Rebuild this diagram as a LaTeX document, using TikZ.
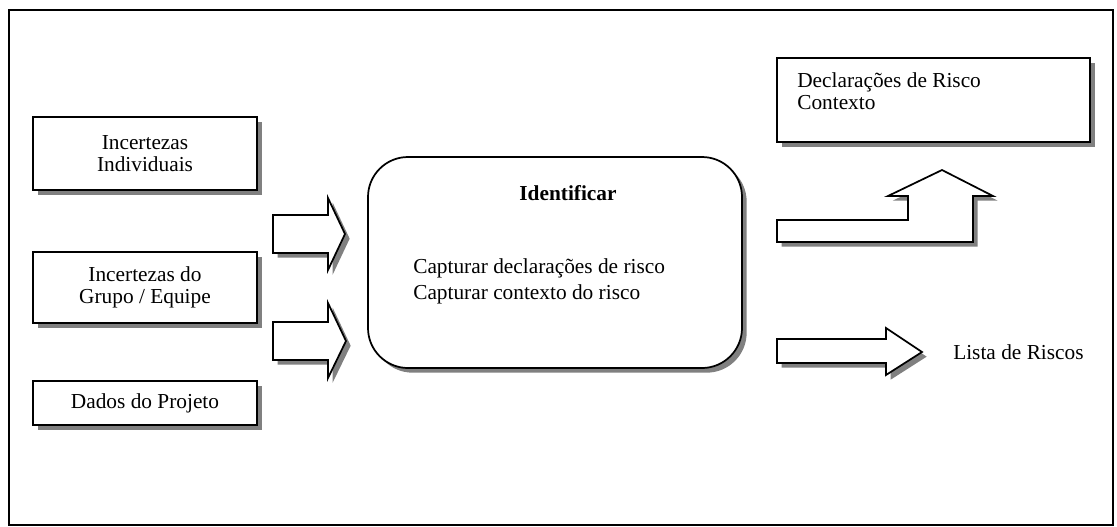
\documentclass[tikz,border=0pt]{standalone}
\usepackage{fontspec}
\setmainfont{Liberation Serif}
\usetikzlibrary{shadows}
\begin{document}
\begin{tikzpicture}[x=0.75pt,y=-0.75pt,
  txt/.style={font=\fontsize{16}{16.5}\selectfont, inner sep=0pt, align=left},
  shd/.style={drop shadow={shadow xshift=3.5pt, shadow yshift=-3.5pt, fill=black!50, opacity=1}},
  box/.style={draw, line width=1.3pt, fill=white, rectangle, inner sep=0pt, align=center, shd,
    font=\fontsize{16}{16.5}\selectfont},
  blockarrow/.style={draw, line width=1.3pt, fill=white, line join=miter, shd}]
\useasboundingbox (0,0) rectangle (1117,526);
\draw[line width=1.5pt] (9,10) rectangle (1113,525);
% left boxes
\node[box, minimum width={224*0.75pt}, minimum height={73*0.75pt}] (ind) at (145,153.5) {Incertezas\\Individuais};
\node[box, minimum width={224*0.75pt}, minimum height={71*0.75pt}] (grp) at (145,287.5) {Incertezas do\\Grupo / Equipe};
\node[box, minimum width={224*0.75pt}, minimum height={44*0.75pt}] (dad) at (145,403) {Dados do Projeto};
% central rounded box
\node[box, rounded corners=30pt, minimum width={374*0.75pt}, minimum height={211*0.75pt}] (idf) at (555,262.5) {};
\node[txt, font=\fontsize{16}{16.5}\selectfont\bfseries] (idt) at (568,193) {Identificar};
\node[txt, anchor=west, font=\fontsize{16}{20}\selectfont] (cap) at (413,281.5) {Capturar declarações de risco\\Capturar contexto do risco};
% top right box
\node[box, minimum width={313*0.75pt}, minimum height={84*0.75pt}] (dec) at (933.5,100) {};
\node[txt, anchor=north west] (dect) at (797,72) {Declarações de Risco\\Contexto};
% block arrows
\path[blockarrow] (273,215) -- (328,215) -- (328,198) -- (345,234) -- (328,270) -- (328,253) -- (273,253) -- cycle;
\path[blockarrow] (273,322) -- (328,322) -- (328,303) -- (346,341) -- (328,378) -- (328,360) -- (273,360) -- cycle;
\path[blockarrow] (777,220) -- (908,220) -- (908,196) -- (888,196) -- (942,170) -- (993,196) -- (973,196) -- (973,242) -- (777,242) -- cycle;
\path[blockarrow] (777,339) -- (886,339) -- (886,328) -- (922,352) -- (886,375) -- (886,363) -- (777,363) -- cycle;
\node[txt, anchor=west] (lst) at (953,352) {Lista de Riscos};
\end{tikzpicture}
\end{document}
